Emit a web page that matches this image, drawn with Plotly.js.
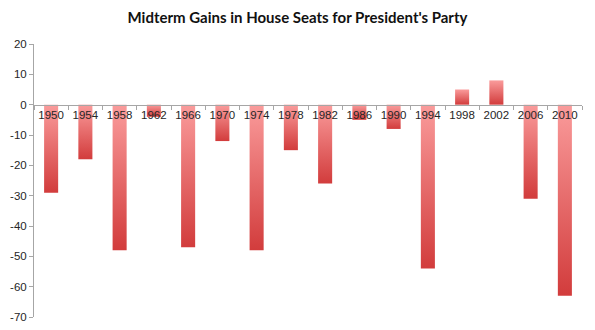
<!DOCTYPE html>
<html>
<head>
<meta charset="utf-8">
<script src="https://cdn.plot.ly/plotly-3.0.1.min.js"></script>
<style>html,body{margin:0;padding:0;background:#fff;}#chart{width:595px;height:330px;}</style>
</head>
<body>
<div id="chart"></div>
<script>
var years = ["1950","1954","1958","1962","1966","1970","1974","1978","1982","1986","1990","1994","1998","2002","2006","2010"];
var seatChange = [-29,-18,-48,-4,-47,-12,-48,-15,-26,-5,-8,-54,5,8,-31,-63];
var yTicks = [20,10,0,-10,-20,-30,-40,-50,-60,-70];

var trace = {
  type: 'bar',
  x: years,
  y: seatChange,
  marker: {color: '#e46a6a', line: {width: 0}},
  hoverinfo: 'x+y'
};

var layout = {
  width: 595, height: 330,
  margin: {l: 34, r: 13, t: 44, b: 13},
  paper_bgcolor: '#ffffff', plot_bgcolor: '#ffffff',
  showlegend: false,
  bargap: 0.59,
  title: {
    text: "Midterm Gains in House Seats for President's Party",
    font: {family: 'Lato, "Open Sans", sans-serif', size: 15, color: '#111111', weight: 'bold'},
    x: 0.5, xanchor: 'center', y: 0.945, yanchor: 'middle'
  },
  xaxis: {
    type: 'category',
    anchor: 'free',
    position: 7/9,
    showline: true, linecolor: '#a6a6a6', linewidth: 1,
    ticks: 'outside', ticklen: 4, tickcolor: '#a6a6a6',
    tickson: 'boundaries',
    tickangle: 0,
    showgrid: false, zeroline: false,
    tickfont: {family: '"Liberation Sans", Arial, sans-serif', size: 11.5, color: '#262626'},
    fixedrange: true
  },
  yaxis: {
    range: [-70, 20],
    domain: [0, 1],
    tickvals: yTicks,
    ticktext: yTicks.map(String),
    showline: true, linecolor: '#a6a6a6', linewidth: 1,
    ticks: 'outside', ticklen: 4, tickcolor: '#a6a6a6',
    showgrid: false, zeroline: false,
    tickfont: {family: '"Liberation Sans", Arial, sans-serif', size: 11.5, color: '#262626'},
    fixedrange: true
  }
};

Plotly.newPlot('chart', [trace], layout, {displayModeBar: false, staticPlot: true}).then(function(gd){
  var svg = gd.querySelector('svg.main-svg');
  var ns = 'http://www.w3.org/2000/svg';
  var defs = svg.querySelector('defs') || svg.insertBefore(document.createElementNS(ns,'defs'), svg.firstChild);
  var g = document.createElementNS(ns, 'linearGradient');
  g.setAttribute('id', 'barGrad');
  g.setAttribute('x1','0'); g.setAttribute('y1','0'); g.setAttribute('x2','0'); g.setAttribute('y2','1');
  [['0%','#fa9b9b'],['100%','#d23c3c']].forEach(function(s){
    var st = document.createElementNS(ns,'stop');
    st.setAttribute('offset', s[0]); st.setAttribute('stop-color', s[1]);
    g.appendChild(st);
  });
  defs.appendChild(g);
  gd.querySelectorAll('.barlayer .point path').forEach(function(p){
    p.style.fill = 'url(#barGrad)';
  });
});
</script>
</body>
</html>
